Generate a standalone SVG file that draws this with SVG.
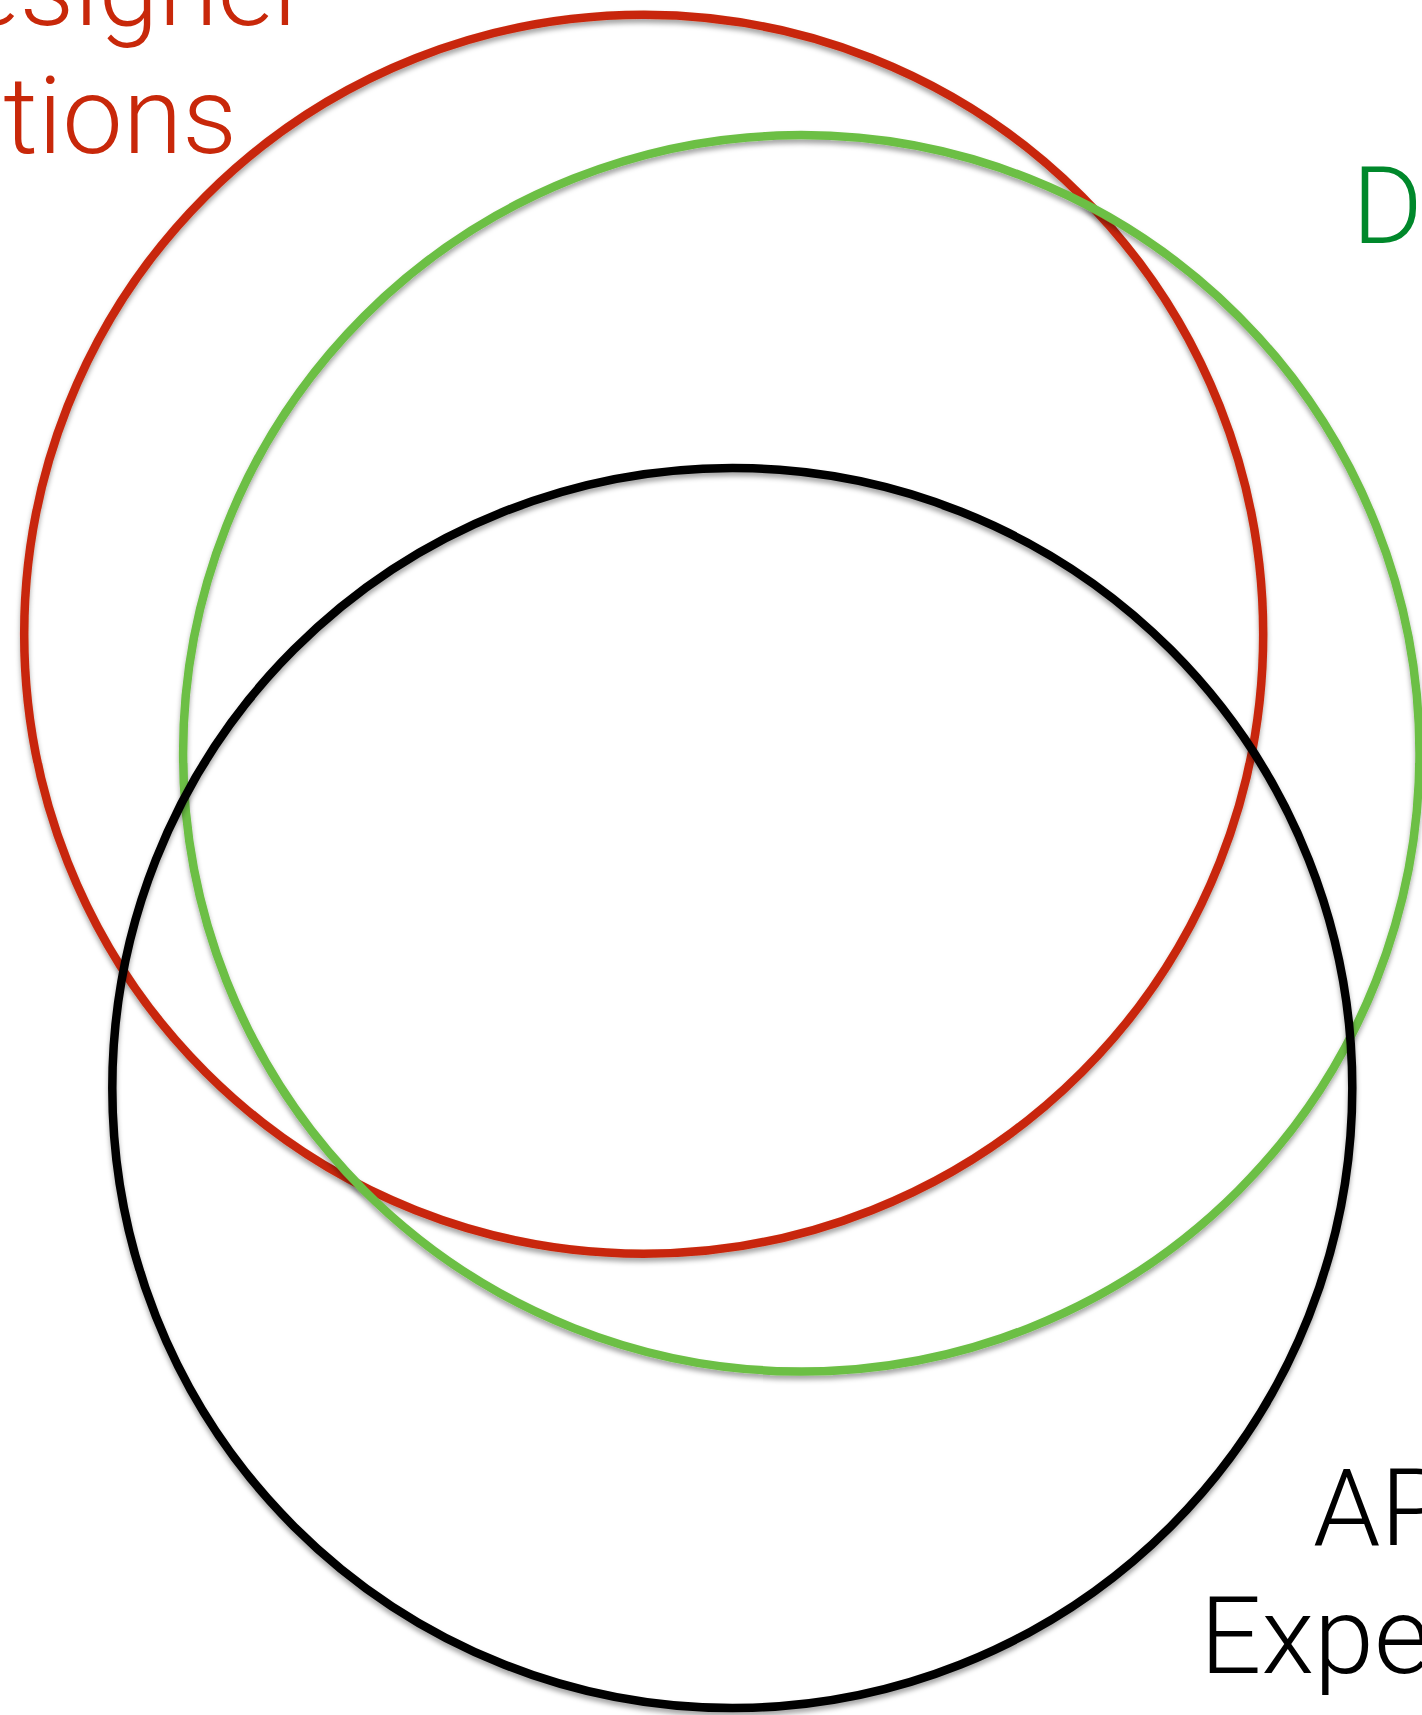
<svg xmlns="http://www.w3.org/2000/svg" width="1422" height="1715" viewBox="0 0 1422 1715">
  <style>
    .ring { fill: none; stroke-width: 8.5; filter: url(#shadow); }
    .lbl { font-family: Roboto, "Helvetica Neue", "Liberation Sans", sans-serif; font-weight: 300; font-size: 108px; }
  </style>
  <defs>
    <filter id="shadow" x="-10%" y="-10%" width="120%" height="120%">
      <feDropShadow dx="0" dy="4" stdDeviation="2.5" flood-color="#000" flood-opacity="0.35"/>
    </filter>
  </defs>
  <rect width="1422" height="1715" fill="#fff"/>
  <g id="designer">
    <circle class="ring" cx="643.7" cy="634.2" r="619.5" stroke="#c8280a"/>
    <text class="lbl" x="310" y="25" text-anchor="end" fill="#c8280a">esigner</text>
    <text class="lbl" x="237" y="153" text-anchor="end" fill="#c8280a">ntions</text>
  </g>
  <g id="developer">
    <circle class="ring" cx="801.3" cy="753.3" r="618.2" stroke="#6cbf45"/>
    <text class="lbl" x="1352" y="243" fill="#00882b">D</text>
  </g>
  <g id="api">
    <circle class="ring" cx="732.3" cy="1088" r="620" stroke="#000"/>
    <text class="lbl" x="1313" y="1545" fill="#000">AP</text>
    <text class="lbl" x="1200" y="1673" fill="#000">Expe</text>
  </g>
  <g id="connectors"/>
</svg>
